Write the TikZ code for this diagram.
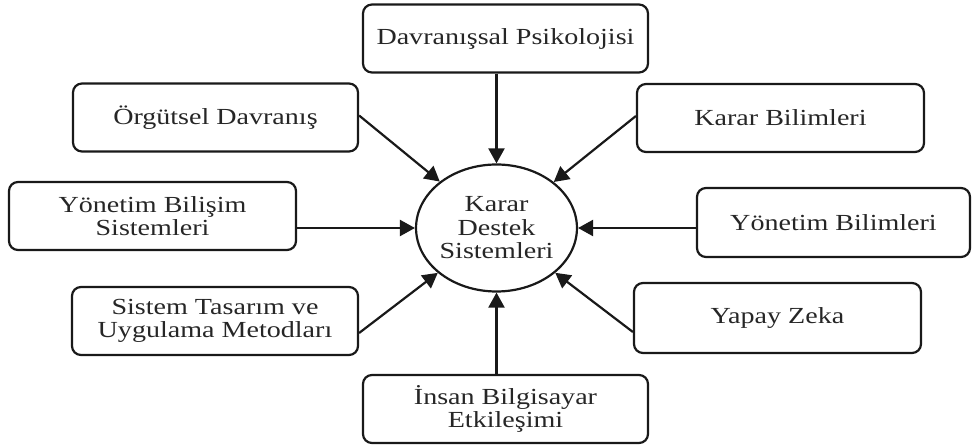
\documentclass[tikz,border=0pt]{standalone}
\usepackage{fontspec}
\setmainfont[FakeStretch=1.22]{Liberation Serif}
\usetikzlibrary{shapes.geometric,arrows.meta}
\begin{document}
\begin{tikzpicture}[x=1pt,y=-1pt,
  box/.style={draw=black!90, line width=2.2pt, rounded corners=9pt, align=center,
    minimum width=285pt, minimum height=68pt, inner sep=0pt,
    font=\fontsize{23}{23}\selectfont, text=black!85},
  hub/.style={draw=black!90, line width=2.2pt, ellipse, minimum width=146pt, minimum height=127pt,
    inner sep=0pt, align=center, font=\fontsize{23}{23.5}\selectfont, text=black!85},
  arr/.style={line width=2.2pt, draw=black!90, -{Triangle[length=15pt,width=16pt]}}]
\useasboundingbox (0,0) rectangle (972,446);
\node[hub] (kds) at (496.5,228) {Karar\\Destek\\Sistemleri};
\node[box] (dp) at (505.5,38.5) {Davranışsal Psikolojisi};
\node[box] (ob) at (215.5,117.5) {Örgütsel Davranış};
\node[box, minimum width=287pt] (ybs) at (152.5,216) {Yönetim Bilişim\\Sistemleri};
\node[box, minimum width=286pt] (st) at (215,321) {Sistem Tasarım ve\\Uygulama Metodları};
\node[box, minimum width=287pt] (kb) at (780.5,118) {Karar Bilimleri};
\node[box, minimum width=273pt, minimum height=69pt] (yb) at (833.5,222.5) {Yönetim Bilimleri};
\node[box, minimum width=287pt, minimum height=70pt] (yz) at (777.5,318) {Yapay Zeka};
\node[box] (ib) at (505.5,409) {İnsan Bilgisayar\\Etkileşimi};
\draw[arr] (dp.south -| kds.north) -- (kds.north);
\draw[arr] (ib.north -| kds.south) -- (kds.south);
\draw[arr] (ybs.east |- kds.west) -- (kds.west);
\draw[arr] (yb.west |- kds.east) -- (kds.east);
\draw[arr] ([yshift=2pt]ob.east) -- (kds);
\draw[arr] ([yshift=2pt]kb.west) -- (kds);
\draw[arr] ([yshift=-12pt]st.east) -- (kds);
\draw[arr] ([yshift=-14pt]yz.west) -- (kds);
\end{tikzpicture}
\end{document}
